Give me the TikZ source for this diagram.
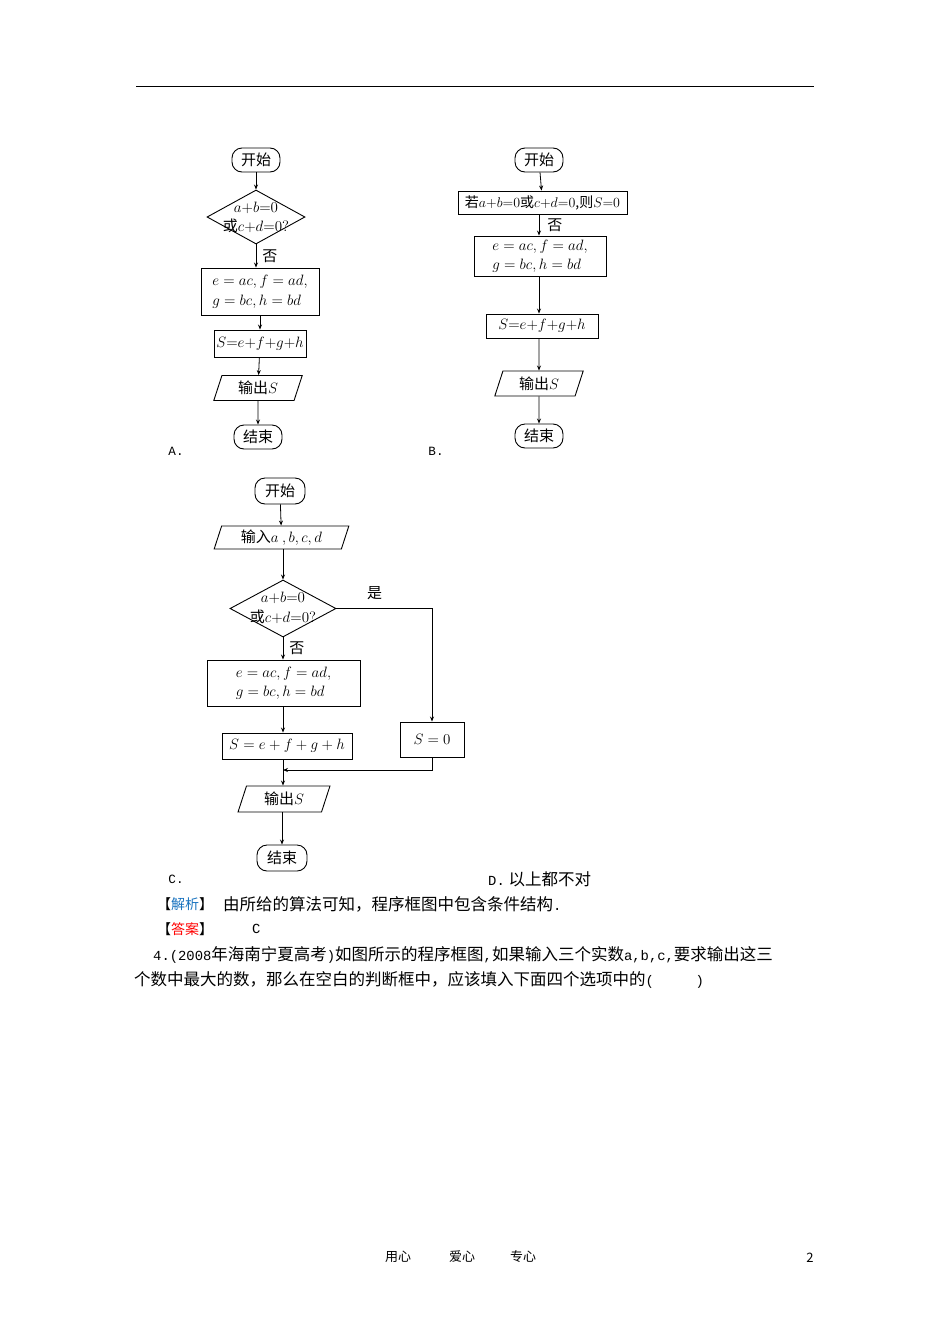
\RequirePackage{fix-cm}
\documentclass[tikz,border=0pt]{standalone}
\usepackage{amsmath,bm}
\usepackage{fontspec}
\setmainfont{Noto Sans CJK SC}
\newfontfamily\ascf{Liberation Mono}[Scale=0.84]
\usetikzlibrary{shapes.geometric,arrows.meta}
\newcommand{\mth}[1]{{\fontsize{15}{17}\selectfont$#1$}}
\begin{document}
\begin{tikzpicture}[x=1pt,y=-1pt,
  every node/.style={inner sep=0pt,font=\fontsize{15}{17}\selectfont},
  term/.style={draw,rounded corners=10pt,minimum width=48pt,minimum height=24pt,line width=0.9pt},
  proc/.style={draw,line width=0.9pt},
  io/.style={draw,trapezium,trapezium left angle=72,trapezium right angle=108,line width=0.9pt,minimum height=25pt},
  arr/.style={-{Stealth[length=5pt,width=4pt]},line width=0.8pt},
  lbl/.style={font=\fontsize{15}{17}\selectfont},
  txt/.style={anchor=west,font=\fontsize{16.5}{18}\selectfont}]
\useasboundingbox[fill=white] (0,0) rectangle (950,1344);
\draw[line width=0.8pt] (136,86) -- (814,86);
% ---------- A
\node[term] (a1) at (256,160) {开始};
\node[draw,line width=0.9pt,shape=diamond,minimum width=98pt,minimum height=54pt] (a2) at (256,217) {};
\node at (256,208) {\mth{a{+}b{=}0}};
\node at (256,226) {或\mth{c{+}d{=}0?}};
\node[proc,minimum width=118pt,minimum height=47pt,align=left] (a3) at (260,291.5) {\mth{e=ac,f=ad,}\\[3pt]\mth{g=bc,h=bd}};
\node[proc,minimum width=92pt,minimum height=27pt] (a4) at (260,343.5) {\mth{S{=}e{+}f{+}g{+}h}};
\node[io,minimum width=52pt] (a5) at (258,388) {输出\mth{S}};
\node[term] (a6) at (258,437) {结束};
\draw[arr] (a1) -- (a2);
\draw[arr] (a2.south) -- (a2.south |- a3.north) node[lbl,pos=0.5,right=6pt] {否};
\draw[arr] (a3) -- (a4);
\draw[arr] (a4) -- (a5);
\draw[arr] (a5) -- (a6);
\node[lbl] at (176,451) {\ascf A.};
% ---------- B
\node[term] (b1) at (539,160) {开始};
\node[proc,minimum width=169pt,minimum height=23pt] (b2) at (542.5,202.5) {\fontsize{14}{16}\selectfont 若$a{+}b{=}0$或$c{+}d{=}0$,则$S{=}0$};
\node[proc,minimum width=132pt,minimum height=40pt,align=left] (b3) at (540,256) {\mth{e=ac,f=ad,}\\[2pt]\mth{g=bc,h=bd}};
\node[proc,minimum width=112pt,minimum height=24pt] (b4) at (542,326) {\mth{S{=}e{+}f{+}g{+}h}};
\node[io,minimum width=52pt] (b5) at (539,383.5) {输出\mth{S}};
\node[term] (b6) at (539,436) {结束};
\draw[arr] (b1) -- (b2);
\draw[arr] (b1 |- b2.south) -- (b1 |- b3.north) node[lbl,pos=0.5,right=8pt] {否};
\draw[arr] (b1 |- b3.south) -- (b1 |- b4.north);
\draw[arr] (b1 |- b4.south) -- (b5);
\draw[arr] (b5) -- (b6);
\node[lbl] at (436,451) {\ascf B.};
% ---------- C
\node[term,minimum width=50pt,minimum height=26pt] (c1) at (280,491) {开始};
\node[io,minimum width=100pt,minimum height=23pt] (c2) at (281.5,537.5) {输入\mth{a\ ,b,c,d}};
\node[draw,line width=0.9pt,shape=diamond,minimum width=106pt,minimum height=57pt] (c3) at (283,608.5) {};
\node at (283,598) {\mth{a{+}b{=}0}};
\node at (283,617) {或\mth{c{+}d{=}0?}};
\node[proc,minimum width=153pt,minimum height=46pt,align=left] (c4) at (283.5,683) {\mth{e=ac,f=ad,}\\[2pt]\mth{g=bc,h=bd}};
\node[proc,minimum width=130pt,minimum height=26pt] (c5) at (287,746) {\mth{S=e+f+g+h}};
\node[proc,minimum width=64pt,minimum height=35pt] (c6) at (432,739.5) {\mth{S=0}};
\node[io,minimum width=60pt,minimum height=26pt] (c7) at (284,799) {输出\mth{S}};
\node[term,minimum width=50pt,minimum height=26pt] (c8) at (282,858) {结束};
\coordinate (cj) at (283,770);
\draw[arr] (c1) -- (c2);
\draw[arr] (c2.south -| c3) -- (c3);
\draw[arr] (c3.south) -- (c3.south |- c4.north) node[lbl,pos=0.5,right=6pt] {否};
\draw[arr] (c3.east) -| (c6.north) node[lbl,pos=0.2,above=8pt] {是};
\draw[arr] (c3 |- c4.south) -- (c3 |- c5.north);
\draw[line width=0.8pt] (c3 |- c5.south) -- (cj);
\draw[arr] (c6.south) |- (cj);
\draw[arr] (cj) -- (c7.north -| cj);
\draw[arr] (c7.south -| c8) -- (c8);
\node[lbl] at (176,879) {\ascf C.};
\node[txt] at (488,879) {{\ascf D.}\ 以上都不对};
% ---------- text
\node[txt,font=\fontsize{14}{16}\selectfont] (t1) at (157,904) {【\textcolor[rgb]{0.1,0.45,0.75}{解析}】};
\node[txt] at (223,904) {由所给的算法可知，程序框图中包含条件结构{\ascf .}};
\node[txt,font=\fontsize{14}{16}\selectfont] (t2) at (157,929) {【\textcolor{red}{答案}】};
\node[txt] at (252,929) {\ascf C};
\node[txt] at (153,955) {{\ascf 4.(2008}年海南宁夏高考{\ascf )}如图所示的程序框图{\ascf ,}如果输入三个实数{\ascf a,b,c,}要求输出这三};
\node[txt] at (134,980) {个数中最大的数，那么在空白的判断框中，应该填入下面四个选项中的{\ascf (\ \ \ \ \ )}};
\node[font=\fontsize{13}{15}\selectfont] at (398,1257) {用心};
\node[font=\fontsize{13}{15}\selectfont] at (462,1257) {爱心};
\node[font=\fontsize{13}{15}\selectfont] at (523,1257) {专心};
\node[font=\fontsize{13}{15}\selectfont] at (810,1258) {2};
\end{tikzpicture}
\end{document}
